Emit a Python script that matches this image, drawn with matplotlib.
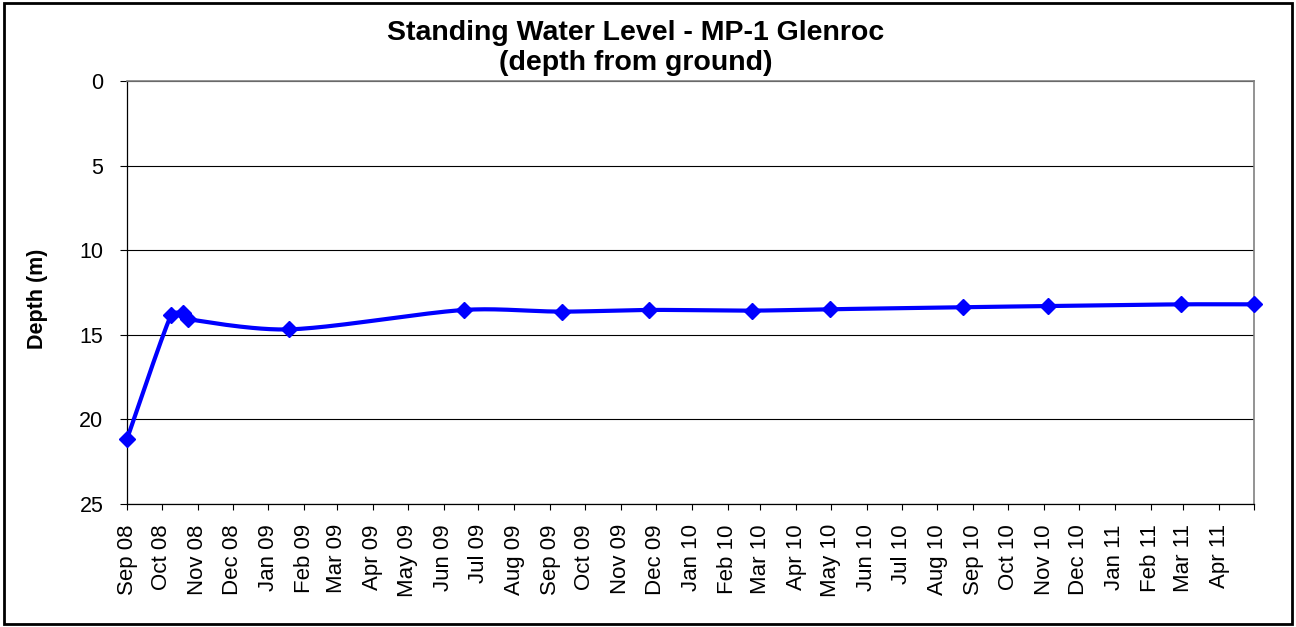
import numpy as np
import pandas as pd
import matplotlib
matplotlib.use("Agg")
import matplotlib.pyplot as plt
import matplotlib.dates as mdates
import matplotlib.patches as mpatches

# readings (date, depth from ground in m)
dates = ["2008-09-01", "2008-10-09", "2008-10-19", "2008-10-24", "2009-01-19",
         "2009-06-19", "2009-09-11", "2009-11-25", "2010-02-22", "2010-04-30",
         "2010-08-23", "2010-11-04", "2011-02-27", "2011-05-01"]
depth = [21.16, 13.83, 13.73, 14.08, 14.68,
         13.53, 13.63, 13.53, 13.57, 13.49,
         13.37, 13.30, 13.20, 13.20]

tick_months = pd.date_range("2008-09-01", "2011-05-01", freq="MS")
tick_labels = [d.strftime("%b %y") for d in tick_months[:-1]] + [""]

title = "Standing Water Level - MP-1 Glenroc\n(depth from ground)"
ylabel = "Depth (m)"

plt.rcParams['font.family'] = ['Liberation Sans', 'DejaVu Sans']

# plot area in pixels
L, R, T, B = 127, 1254, 81, 504


def smooth(x, y, sx, sy, n=40):
    # smoothed line like the spreadsheet one: bezier segments, tangent from the
    # neighbours, handle shortened on a short segment next to a long one
    x = np.asarray(x, float)
    y = np.asarray(y, float)
    P = np.column_stack([x * sx, y * sy])
    m = len(P)
    tang = np.zeros_like(P)
    for i in range(m):
        tang[i] = P[min(i + 1, m - 1)] - P[max(i - 1, 0)]
    seg = np.hypot(*np.diff(P, axis=0).T)
    t = np.linspace(0, 1, n)[:, None]
    out = []
    for i in range(m - 1):
        p0, p3 = P[i], P[i + 1]
        f0 = min(seg[i] / (seg[i - 1] + seg[i]), 0.5) / 3 if i > 0 else 1 / 6
        f1 = min(seg[i] / (seg[i] + seg[i + 1]), 0.5) / 3 if i + 1 < m - 1 else 1 / 6
        p1 = p0 + tang[i] * f0
        p2 = p3 - tang[i + 1] * f1
        b = ((1 - t) ** 3) * p0 + 3 * ((1 - t) ** 2) * t * p1 + 3 * (1 - t) * t ** 2 * p2 + t ** 3 * p3
        out.append(b)
    out = np.concatenate(out)
    return out[:, 0] / sx, out[:, 1] / sy


xd = mdates.date2num(pd.to_datetime(dates))
x0 = mdates.date2num(tick_months[0])
x1 = mdates.date2num(tick_months[-1])
px_day = (R - L) / (x1 - x0)
px_m = (B - T) / 25.0
sx, sy = smooth(xd, depth, px_day, px_m)

fig = plt.figure(figsize=(12.96, 6.27), dpi=100)
ax = fig.add_axes([L / 1296, 1 - B / 627, (R - L) / 1296, (B - T) / 627])

ax.plot(sx, sy, color='#0000FF', lw=3, solid_capstyle='round', clip_on=False, zorder=3)
ax.plot(xd, depth, ls='none', marker='D', ms=8.5, color='#0000FF', clip_on=False, zorder=4)

ax.set_xlim(x0, x1)
ax.set_ylim(25, 0)
ax.set_yticks([0, 5, 10, 15, 20, 25])
ax.set_xticks(mdates.date2num(tick_months))
ax.set_xticklabels(tick_labels, rotation=90, va='top', ha='center')

ax.grid(axis='y', color='black', lw=0.8)
ax.set_axisbelow(True)
ax.tick_params(axis='y', direction='out', length=5, width=0.8, pad=12, labelsize=15.5)
ax.tick_params(axis='x', direction='out', length=4.5, width=0.8, pad=10, labelsize=16)

for s in ['left', 'bottom']:
    ax.spines[s].set_color('black')
    ax.spines[s].set_linewidth(0.9)
for s in ['top', 'right']:
    ax.spines[s].set_color('#808080')
    ax.spines[s].set_linewidth(1.2)

ax.set_ylabel(ylabel, fontsize=15.5, fontweight='bold')
ax.yaxis.set_label_coords(-0.070, 0.485)

fig.text(636 / 1296, 1 - 48 / 627, title, ha='center', va='center', fontsize=20.5,
         fontweight='bold', linespacing=1.2)

fig.patches.append(mpatches.Rectangle((0.003, 0.004), 0.994, 0.992, transform=fig.transFigure,
                                      fill=False, edgecolor='black', lw=2))

fig.savefig("out.png", dpi=100)
